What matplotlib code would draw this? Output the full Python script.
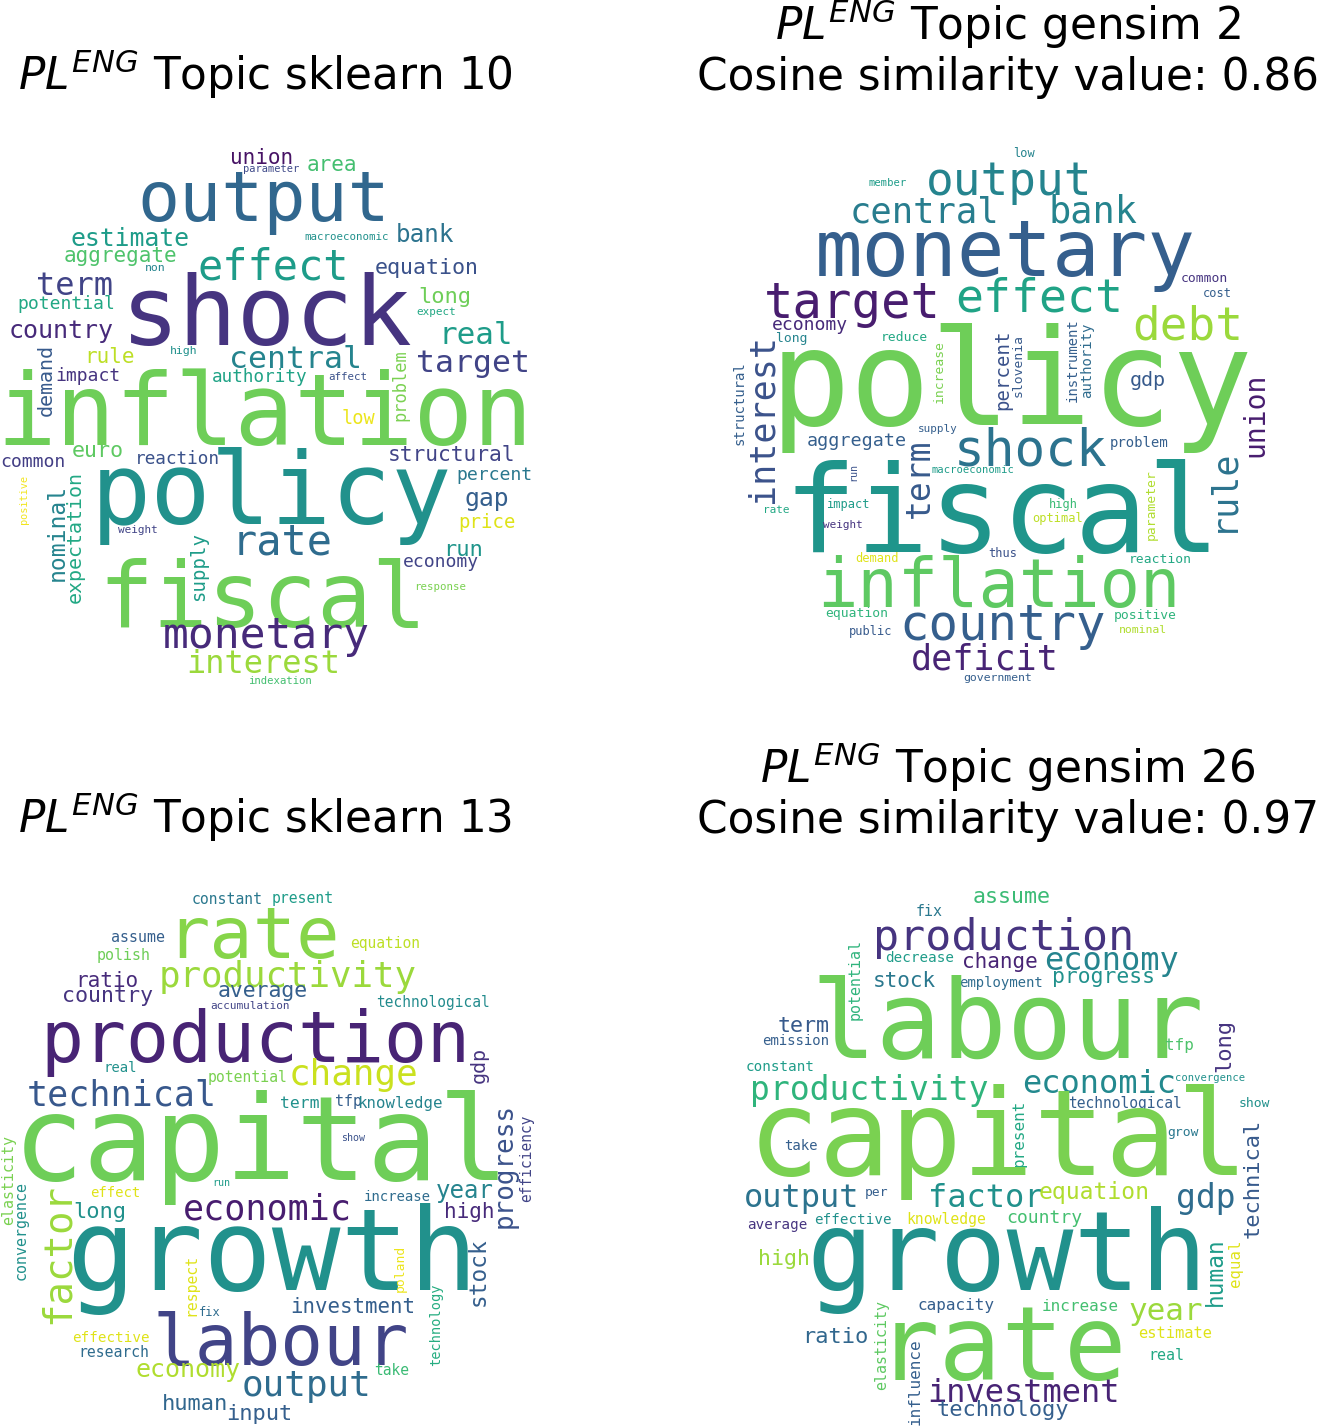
import matplotlib
matplotlib.use("Agg")
import matplotlib.pyplot as plt

W, H = 1320, 1426
WORD_FONT = "DejaVu Sans Mono"

TITLES = [
    r"$PL^{ENG}$ Topic sklearn 10",
    r"$PL^{ENG}$ Topic gensim 2" + "\nCosine similarity value: 0.86",
    r"$PL^{ENG}$ Topic sklearn 13",
    r"$PL^{ENG}$ Topic gensim 26" + "\nCosine similarity value: 0.97",
]

# ---------------- panel 1: sklearn topic 10 ----------------
WORDS_1 = ["union", "parameter", "area", "output", "macroeconomic", "estimate", "bank",
           "aggregate", "effect", "non", "equation", "term", "long", "potential", "expect",
           "shock", "country", "real", "central", "target", "rule", "high", "demand",
           "impact", "authority", "affect", "problem", "inflation", "low", "euro", "common",
           "reaction", "structural", "policy", "percent", "positive", "nominal",
           "expectation", "gap", "price", "weight", "rate", "run", "economy", "supply",
           "response", "fiscal", "monetary", "interest", "indexation"]
SIZE_1 = [21, 10.4, 21, 70, 10.7, 24.8, 24.3, 21, 42, 11.5, 21.6, 32, 22, 18, 11,
          97, 25, 31, 31.5, 31.5, 21, 11.5, 20, 18, 17.6, 10.7, 17, 99, 18.7, 21.7, 18,
          17.8, 21.3, 100, 18.2, 10.3, 23, 20, 24.7, 19, 11, 42, 22, 18, 19,
          10.7, 91, 43, 32, 10.6]
X_1 = [262, 271, 332, 264, 347, 130, 425, 120, 273, 155, 427, 75, 445, 66, 436,
       267, 61, 476, 295, 473, 109, 184, 52, 88, 260, 348, 405, 265, 358, 98, 33,
       177, 452, 272, 494, 27, 64, 81, 487, 487, 138, 282, 463, 441, 204,
       440, 263, 266, 263, 280]
Y_1 = [164, 172, 171, 221, 240, 246, 242, 262, 280, 271, 274, 295, 303, 309, 315,
       345, 338, 344, 368, 372, 363, 354, 380, 381, 382, 380, 385, 445, 424, 457, 467,
       464, 461, 524, 480, 500, 532, 537, 506, 528, 533, 555, 556, 567, 567,
       590, 627, 648, 673, 684]
ROT_1 = [0, 0, 0, 0, 0, 0, 0, 0, 0, 0, 0, 0, 0, 0, 0,
         0, 0, 0, 0, 0, 0, 0, 90, 0, 0, 0, 90, 0, 0, 0, 0,
         0, 0, 0, 0, 90, 90, 90, 0, 0, 0, 0, 0, 0, 90,
         0, 0, 0, 0, 0]
SHADE_1 = [0.05, 0.22, 0.70, 0.33, 0.50, 0.55, 0.38, 0.72, 0.55, 0.45, 0.25, 0.20, 0.78, 0.60, 0.60,
           0.15, 0.12, 0.55, 0.45, 0.20, 0.90, 0.50, 0.28, 0.15, 0.58, 0.25, 0.80, 0.78, 0.97, 0.75, 0.18,
           0.25, 0.20, 0.50, 0.40, 0.98, 0.45, 0.60, 0.30, 0.95, 0.20, 0.35, 0.52, 0.20, 0.55,
           0.80, 0.78, 0.12, 0.85, 0.70]

# ---------------- panel 2: gensim topic 2 ----------------
WORDS_2 = ["low", "member", "output", "central", "bank", "monetary", "common", "cost",
           "target", "effect", "debt", "economy", "long", "reduce", "policy", "interest",
           "structural", "increase", "percent", "slovenia", "instrument", "authority", "gdp",
           "union", "aggregate", "supply", "shock", "problem", "term", "macroeconomic", "run",
           "fiscal", "rule", "rate", "impact", "high", "weight", "optimal", "parameter",
           "demand", "thus", "reaction", "inflation", "equation", "positive", "public",
           "nominal", "country", "deficit", "government"]
SIZE_2 = [12, 10.5, 46, 35.5, 37, 79, 13, 12,
          49, 46.5, 46, 18, 13, 13, 134, 35,
          14, 13, 19, 13, 14, 14, 20,
          28, 18.4, 11, 51, 14, 33, 10.5, 10,
          121, 35, 11, 12, 12, 11, 12, 13,
          12, 12, 13, 67, 13, 13, 12,
          11.5, 49, 35, 11.5]
X_2 = [1024, 888, 1009, 924, 1093, 1005, 1204, 1217,
       852, 1039, 1188, 810, 792, 904, 1012, 772,
       744, 943, 1008, 1022, 1077, 1091, 1148,
       1263, 857, 938, 1031, 1139, 929, 973, 856,
       1002, 1232, 776, 848, 1063, 843, 1058, 1155,
       877, 1003, 1160, 999, 857, 1145, 871,
       1143, 1003, 985, 998]
Y_2 = [157, 186, 195, 223, 223, 276, 282, 297,
       318, 312, 340, 330, 342, 341, 425, 419,
       403, 372, 370, 366, 360, 360, 386,
       415, 446, 432, 466, 447, 478, 473, 472,
       552, 490, 513, 508, 508, 528, 522, 505,
       562, 557, 563, 607, 617, 619, 635,
       633, 640, 670, 681]
ROT_2 = [0, 0, 0, 0, 0, 0, 0, 0,
         0, 0, 0, 0, 0, 0, 0, 90,
         90, 90, 90, 90, 90, 90, 0,
         90, 0, 0, 0, 0, 90, 0, 90,
         0, 90, 0, 0, 0, 0, 0, 90,
         0, 0, 0, 0, 0, 0, 0,
         0, 0, 0, 0]
SHADE_2 = [0.45, 0.55, 0.45, 0.42, 0.45, 0.30, 0.15, 0.30,
           0.08, 0.58, 0.85, 0.12, 0.45, 0.60, 0.78, 0.25,
           0.30, 0.80, 0.25, 0.28, 0.30, 0.35, 0.28,
           0.08, 0.30, 0.30, 0.38, 0.30, 0.28, 0.55, 0.25,
           0.52, 0.38, 0.60, 0.55, 0.68, 0.15, 0.90, 0.88,
           0.95, 0.25, 0.60, 0.75, 0.65, 0.65, 0.28,
           0.88, 0.30, 0.10, 0.30]

# ---------------- panel 3: sklearn topic 13 ----------------
WORDS_3 = ["constant", "present", "rate", "assume", "equation", "polish", "productivity",
           "ratio", "country", "average", "technological", "accumulation", "production",
           "gdp", "real", "potential", "change", "technical", "term", "tfp", "knowledge",
           "capital", "progress", "efficiency", "show", "elasticity", "convergence", "run",
           "effect", "increase", "year", "economic", "long", "high", "factor", "growth",
           "respect", "poland", "stock", "fix", "investment", "technology", "effective",
           "labour", "research", "economy", "take", "output", "human", "input"]
SIZE_3 = [14.8, 14.8, 72, 15, 14.6, 15, 35.8,
          21, 21.7, 21.4, 14.5, 11, 71.5,
          20, 14, 14.8, 36, 35, 16.4, 15, 15.7,
          118, 26, 14.5, 10, 15, 15, 10,
          14, 14, 24, 35, 22, 21, 39, 114,
          14.8, 13, 22.7, 12, 20.8, 13.6, 14.2,
          71, 14.8, 25, 14.6, 36, 22, 22]
X_3 = [227, 303, 253, 138, 385, 124, 288,
       107, 107, 263, 433, 250, 255,
       485, 120, 248, 354, 122, 300, 348, 400,
       261, 512, 531, 353, 13, 26, 221,
       115, 397, 465, 267, 100, 469, 69, 272,
       195, 404, 485, 210, 353, 440, 111,
       281, 114, 188, 392, 307, 195, 259]
Y_3 = [904, 903, 958, 942, 948, 960, 987,
       987, 1002, 997, 1007, 1009, 1062,
       1065, 1072, 1082, 1085, 1105, 1108, 1106, 1108,
       1180, 1165, 1158, 1141, 1180, 1230, 1186,
       1197, 1201, 1198, 1220, 1218, 1218, 1253, 1290,
       1285, 1268, 1272, 1316, 1313, 1325, 1342,
       1365, 1357, 1377, 1375, 1396, 1410, 1420]
ROT_3 = [0, 0, 0, 0, 0, 0, 0,
         0, 0, 0, 0, 0, 0,
         90, 0, 0, 0, 0, 0, 0, 0,
         0, 90, 90, 0, 90, 90, 0,
         0, 0, 0, 0, 0, 0, 90, 0,
         90, 90, 90, 0, 0, 90, 0,
         0, 0, 0, 0, 0, 0, 0]
SHADE_3 = [0.40, 0.55, 0.82, 0.30, 0.90, 0.78, 0.85,
           0.12, 0.15, 0.30, 0.48, 0.20, 0.10,
           0.15, 0.50, 0.80, 0.92, 0.27, 0.50, 0.30, 0.45,
           0.78, 0.25, 0.20, 0.25, 0.80, 0.50, 0.55,
           0.95, 0.35, 0.45, 0.08, 0.50, 0.12, 0.85, 0.50,
           0.95, 0.97, 0.30, 0.35, 0.30, 0.62, 0.95,
           0.20, 0.35, 0.88, 0.68, 0.35, 0.33, 0.30]

# ---------------- panel 4: gensim topic 26 ----------------
WORDS_4 = ["assume", "fix", "production", "potential", "decrease", "change", "economy",
           "progress", "stock", "employment", "labour", "term", "emission", "long", "tfp",
           "constant", "convergence", "productivity", "economic", "technological", "show",
           "present", "capital", "technical", "grow", "take", "output", "per", "factor",
           "equation", "gdp", "average", "effective", "knowledge", "country", "human",
           "equal", "high", "growth", "elasticity", "capacity", "increase", "year",
           "estimate", "ratio", "influence", "rate", "real", "investment", "technology"]
SIZE_4 = [21.7, 15, 43.4, 15, 14.3, 21, 32,
          21.4, 21, 14, 109, 21.7, 14, 22, 16,
          14.3, 10.5, 33, 32, 14.6, 13,
          16, 119, 22, 13, 14, 32, 13, 32,
          23, 33, 14.3, 14.2, 14.8, 18, 22.7,
          15.7, 21.7, 111, 15, 16, 16, 31,
          15.4, 22, 16, 104, 15, 32, 22]
X_4 = [1012, 929, 1004, 860, 920, 1000, 1112,
       1104, 904, 1001, 1007, 804, 796, 1230, 1179,
       780, 1210, 869, 1099, 1125, 1254,
       1024, 998, 1259, 1183, 801, 802, 877, 986,
       1094, 1206, 777, 853, 946, 1044, 1222,
       1240, 784, 1007, 886, 956, 1080, 1166,
       1175, 835, 920, 1002, 1166, 1024, 1003]
Y_4 = [903, 916, 950, 980, 962, 968, 970,
       983, 987, 987, 1058, 1032, 1045, 1045, 1050,
       1071, 1081, 1100, 1093, 1108, 1107,
       1133, 1175, 1178, 1136, 1150, 1207, 1196, 1207,
       1199, 1208, 1229, 1224, 1224, 1223, 1272,
       1263, 1265, 1290, 1345, 1310, 1311, 1320,
       1338, 1343, 1382, 1380, 1360, 1402, 1416]
ROT_4 = [0, 0, 0, 90, 0, 0, 0,
         0, 0, 0, 0, 0, 0, 90, 0,
         0, 0, 0, 0, 0, 0,
         90, 0, 90, 0, 0, 0, 0, 0,
         0, 0, 0, 0, 0, 0, 90,
         90, 0, 0, 90, 0, 0, 0,
         0, 0, 90, 0, 0, 0, 0]
SHADE_4 = [0.68, 0.40, 0.15, 0.65, 0.55, 0.10, 0.45,
           0.50, 0.40, 0.35, 0.78, 0.28, 0.30, 0.15, 0.72,
           0.55, 0.50, 0.65, 0.47, 0.30, 0.50,
           0.60, 0.80, 0.28, 0.40, 0.30, 0.38, 0.30, 0.50,
           0.88, 0.35, 0.15, 0.50, 0.95, 0.70, 0.55,
           0.95, 0.85, 0.50, 0.75, 0.30, 0.70, 0.85,
           0.95, 0.33, 0.30, 0.78, 0.60, 0.10, 0.30]

# axes rectangles in pixel space (x0, y0, x1, y1)
RECTS = [(0, 130, 530, 700), (743, 130, 1273, 700),
         (0, 873, 530, 1426), (743, 873, 1273, 1426)]

PANELS = [
    (WORDS_1, SIZE_1, X_1, Y_1, ROT_1, SHADE_1),
    (WORDS_2, SIZE_2, X_2, Y_2, ROT_2, SHADE_2),
    (WORDS_3, SIZE_3, X_3, Y_3, ROT_3, SHADE_3),
    (WORDS_4, SIZE_4, X_4, Y_4, ROT_4, SHADE_4),
]

cmap = matplotlib.colormaps["viridis"]
fig = plt.figure(figsize=(W / 100, H / 100), dpi=100)

for (x0, y0, x1, y1), title, (words, sizes, xs, ys, rots, shades) in zip(RECTS, TITLES, PANELS):
    assert len(words) == len(sizes) == len(xs) == len(ys) == len(rots) == len(shades)
    ax = fig.add_axes([x0 / W, 1 - y1 / H, (x1 - x0) / W, (y1 - y0) / H])
    ax.set_xlim(x0, x1)
    ax.set_ylim(y1, y0)
    ax.axis("off")
    ax.set_title(title, fontsize=31.5, pad=28.8, linespacing=1.15)
    for w, s, x, y, r, c in zip(words, sizes, xs, ys, rots, shades):
        ax.text(x, y, w, fontsize=s * 0.72, family=WORD_FONT, color=cmap(c),
                rotation=r, rotation_mode="anchor", ha="center", va="baseline")

fig.savefig("out.png", dpi=100)
